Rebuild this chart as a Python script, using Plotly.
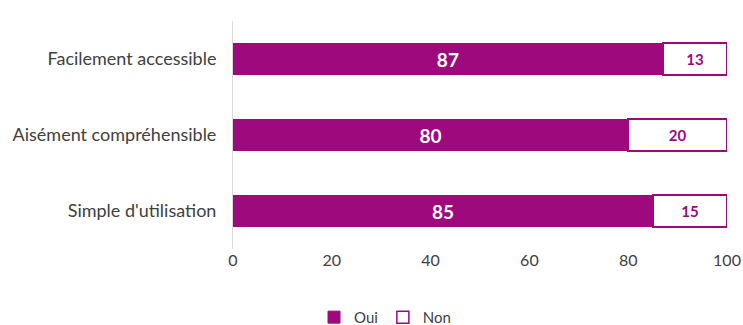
import plotly.graph_objects as go

categories = ["Facilement accessible", "Aisément compréhensible", "Simple d'utilisation"]
oui = [87, 80, 85]
non = [13, 20, 15]
tick_vals = [0, 20, 40, 60, 80, 100]

MAG = "#9E0A7E"
FONT = "Lato, Open Sans, sans-serif"
GREY = "#404040"

fig = go.Figure()
fig.add_trace(go.Bar(
    y=categories, x=oui, orientation="h", name="Oui",
    marker=dict(color=MAG, line=dict(color=MAG, width=1)),
    text=[str(v) for v in oui], textposition="inside", insidetextanchor="middle",
    textfont=dict(color="white", size=19, family=FONT),
    texttemplate="<b>%{text}</b>",
))
fig.add_trace(go.Bar(
    y=categories, x=non, orientation="h", name="Non",
    marker=dict(color="white", line=dict(color=MAG, width=1.5)),
    text=[str(v) for v in non], textposition="inside", insidetextanchor="middle",
    textfont=dict(color=MAG, size=15, family=FONT),
    texttemplate="<b>%{text}</b>",
))

fig.update_layout(
    barmode="stack",
    bargap=0.58,
    width=743, height=325,
    margin=dict(l=233, r=16, t=21, b=76, autoexpand=False),
    plot_bgcolor="white", paper_bgcolor="white",
    font=dict(family=FONT, color=GREY, size=15),
    showlegend=True,
    legend=dict(orientation="h", x=(385 - 233) / 494, xanchor="center",
                y=-0.30, yanchor="middle",
                font=dict(size=15, color=GREY), traceorder="normal",
                itemwidth=30, tracegroupgap=0),
    uniformtext=dict(mode=False),
)
fig.update_xaxes(range=[0, 100], tickvals=tick_vals, showgrid=False, zeroline=False,
                 showline=False, ticks="", tickfont=dict(size=16, color=GREY),
                 automargin=False, fixedrange=True)
fig.update_yaxes(categoryorder="array", categoryarray=categories, autorange="reversed",
                 showgrid=False, showline=True, linecolor="#D9D9D9", linewidth=1,
                 ticks="", ticklabelstandoff=12, automargin=False,
                 tickfont=dict(size=18, color=GREY))

fig.write_html(
    "out.html",
    config={"displayModeBar": False},
    post_script="document.body.style.margin='0';document.body.style.overflow='hidden';",
)
